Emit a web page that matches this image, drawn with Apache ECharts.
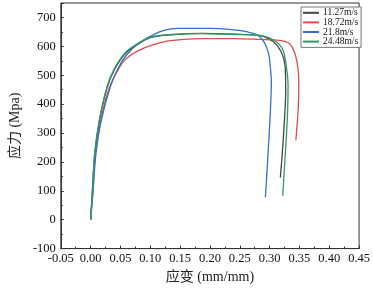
<!DOCTYPE html>
<html><head><meta charset="utf-8">
<script src="https://cdn.jsdelivr.net/npm/echarts@6/dist/echarts.min.js"></script>
<style>html,body{margin:0;padding:0;background:#fff}#c{width:373px;height:289px}</style>
</head><body><div id="c"></div>
<script>
var names = ['11.27m/s', '18.72m/s', '21.8m/s', '24.48m/s'];
var colors = ['#444444', '#e04a4a', '#2f70d0', '#2e9c60'];
var strain1 = [0, 0.003, 0.007, 0.015, 0.028, 0.04, 0.058, 0.076, 0.1, 0.134, 0.187, 0.241, 0.284, 0.306, 0.319, 0.326, 0.327, 0.326, 0.322, 0.318];
var stress1 = [0, 100, 230, 345, 460, 520, 575, 603, 630, 640, 645, 642, 637, 617, 583, 532, 441, 385, 249, 146];
var strain2 = [0, 0.004, 0.008, 0.017, 0.031, 0.045, 0.058, 0.08, 0.104, 0.134, 0.187, 0.241, 0.284, 0.316, 0.333, 0.342, 0.347, 0.349, 0.348, 0.344];
var stress2 = [0, 100, 230, 345, 455, 515, 554, 585, 605, 620, 627, 627, 624, 621, 610, 578, 532, 476, 385, 275];
var strain3 = [0, 0.004, 0.009, 0.018, 0.033, 0.045, 0.06, 0.08, 0.104, 0.123, 0.145, 0.2, 0.24, 0.263, 0.279, 0.29, 0.298, 0.301, 0.303, 0.301, 0.298, 0.293];
var stress3 = [0, 100, 230, 345, 460, 520, 570, 610, 639, 655, 662, 662, 657, 650, 640, 617, 578, 532, 476, 362, 249, 78];
var strain4 = [0, 0.003, 0.007, 0.015, 0.028, 0.039, 0.058, 0.076, 0.1, 0.134, 0.187, 0.241, 0.284, 0.308, 0.322, 0.328, 0.331, 0.330, 0.327, 0.322];
var stress4 = [0, 105, 237, 350, 464, 520, 578, 606, 632, 641, 644, 641, 638, 620, 589, 532, 464, 362, 249, 83];
var xTicks = {min: -0.05, max: 0.45, interval: 0.05};
var yTicks = {min: -100, max: 750, interval: 100};

function pairs(xs, ys){ return xs.map(function(x,i){ return [x, ys[i]]; }); }
var all = [[strain1,stress1],[strain2,stress2],[strain3,stress3],[strain4,stress4]];
var font = '"Liberation Serif", "Noto Sans CJK SC", serif';
var chart = echarts.init(document.getElementById('c'));
chart.setOption({
  animation: false,
  textStyle: {fontFamily: font},
  grid: {left: 52.7, right: 10, top: 3, bottom: 36.7, show: true, borderColor: '#333', borderWidth: 1},
  legend: {
    orient: 'vertical', left: 301, top: 7, padding: [1, 3, 1, 2],
    itemGap: 0, itemWidth: 16, itemHeight: 2, icon: 'rect',
    borderColor: '#777', borderWidth: 1, backgroundColor: '#fff',
    textStyle: {fontFamily: font, fontSize: 9.5, color: '#111', lineHeight: 9.6, padding: [0,0,0,-1]},
    data: names
  },
  xAxis: {
    type: 'value', min: xTicks.min, max: xTicks.max, interval: xTicks.interval,
    name: '应变 (mm/mm)', nameLocation: 'middle', nameGap: 21,
    nameTextStyle: {fontFamily: font, fontSize: 14, color: '#222'},
    axisLine: {onZero: false, lineStyle: {color: '#333', width: 1}},
    axisTick: {inside: true, length: 3, lineStyle: {color: '#333'}},
    minorTick: {show: true, splitNumber: 2, length: 2, lineStyle: {color: '#333'}},
    splitLine: {show: false},
    axisLabel: {fontFamily: font, fontSize: 12.5, color: '#111', margin: 4,
      formatter: function(v){ return v.toFixed(2); }}
  },
  yAxis: {
    type: 'value', min: yTicks.min, max: yTicks.max, interval: yTicks.interval,
    name: '应力 (Mpa)', nameLocation: 'middle', nameGap: 36,
    nameTextStyle: {fontFamily: font, fontSize: 14, color: '#222'},
    axisLine: {show: true, onZero: false, lineStyle: {color: '#333', width: 1}},
    axisTick: {inside: true, length: 3, lineStyle: {color: '#333'}},
    minorTick: {show: true, splitNumber: 2, length: 2, lineStyle: {color: '#333'}},
    splitLine: {show: false},
    axisLabel: {fontFamily: font, fontSize: 12.5, color: '#111', margin: 5, showMaxLabel: false,
      formatter: function(v){ return v > 700 ? '' : String(Math.round(v)); }}
  },
  series: all.map(function(s, i){
    return {
      name: names[i], type: 'line', data: pairs(s[0], s[1]),
      showSymbol: false, smooth: 0.3, color: colors[i],
      lineStyle: {width: 1.3, color: colors[i]}
    };
  })
});
</script></body></html>
